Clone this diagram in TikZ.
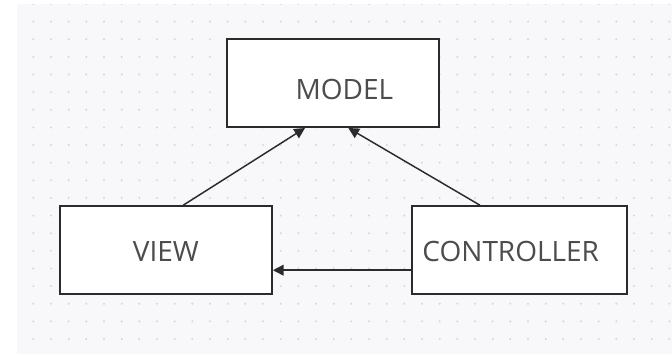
\documentclass[tikz,border=0pt]{standalone}
\usepackage{fontspec}
\setsansfont{Open Sans}
\usepackage{tikz}
\usetikzlibrary{arrows.meta}
\definecolor{canvas}{HTML}{F8F8FA}
\definecolor{dotgray}{HTML}{D8D8DC}
\definecolor{ink}{HTML}{2B2B2B}
\definecolor{lettering}{HTML}{4C4C4C}

\begin{document}
\begin{tikzpicture}[x=0.75pt,y=-0.75pt,
  box/.style={draw=ink,line width=1.5pt,fill=white,minimum height=66pt,inner sep=0pt},
  lbl/.style={font=\sffamily\fontsize{21}{25}\selectfont,text=lettering,inner sep=0pt},
  link/.style={draw=ink,line width=1.1pt,-{Triangle[length=8pt,width=8pt]}}]
\useasboundingbox (0,0) rectangle (672,354);
\fill[canvas] (17,4) rectangle (672,354);
\begin{scope}
\clip (17,4) rectangle (672,354);
\foreach \i in {0,...,37} \foreach \j in {0,...,19}
  \fill[dotgray] (15.67+17.667*\i,4+17.63*\j) circle (0.85pt);
\end{scope}
\node[box,minimum width=159pt,label={[lbl,xshift=8.5pt,yshift=-4.9pt]center:MODEL}] (model) at (333,83) {};
\node[box,minimum width=159pt,label={[lbl,yshift=-1.1pt]center:VIEW}] (view) at (165.9,250.2) {};
\node[box,minimum width=161pt,label={[lbl,xshift=-6.4pt,yshift=-1.2pt]center:CONTROLLER}] (controller) at (519.3,250.2) {};
\draw[link] ([xshift=13pt]view.north) -- ([xshift=-21pt]model.south);
\draw[link] ([xshift=-29.5pt]controller.north) -- ([xshift=11.5pt]model.south);
\draw[link] ([yshift=-15pt]controller.west) -- ([yshift=-15pt]view.east);
\end{tikzpicture}
\end{document}
